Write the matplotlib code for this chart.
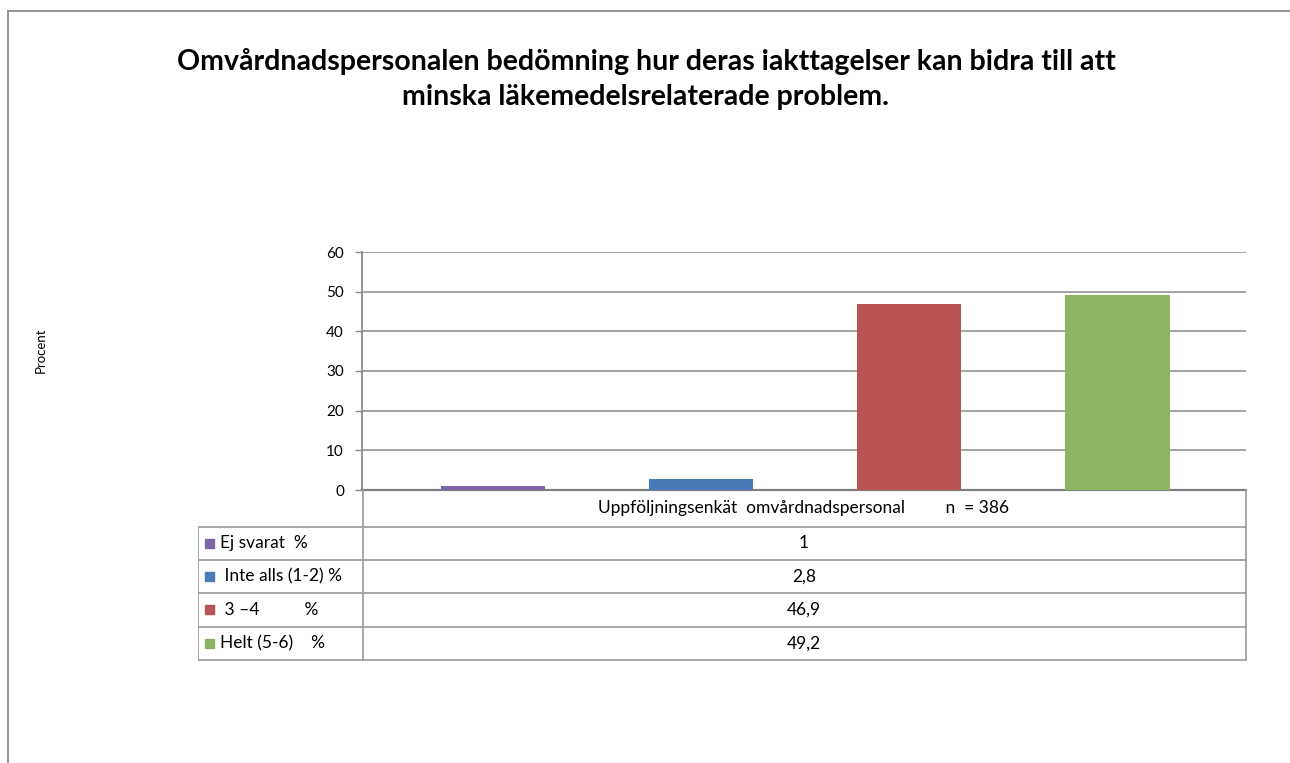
import matplotlib.pyplot as plt
from matplotlib.patches import Rectangle
from matplotlib.lines import Line2D

plt.rcParams['font.family'] = ['Lato', 'DejaVu Sans']

# data
series = ["Ej svarat  %", " Inte alls (1-2) %", " 3 \u20134          %", "Helt (5-6)    %"]
values = [1, 2.8, 46.9, 49.2]
value_labels = ["1", "2,8", "46,9", "49,2"]
colors = ["#7D63A8", "#4A7BB8", "#B85452", "#8DB465"]
category = "Uppf\u00f6ljningsenk\u00e4t  omv\u00e5rdnadspersonal         n  = 386"
title = ("Omv\u00e5rdnadspersonalen bed\u00f6mning hur deras iakttagelser kan bidra till att\n"
         "minska l\u00e4kemedelsrelaterade problem.")

W, H = 1290, 763
fig = plt.figure(figsize=(W / 100, H / 100), dpi=100)
grid_col = "#8a8a8a"

# outer chart border (runs off the right and bottom of the picture)
fig.add_artist(Line2D([8 / W, 8 / W], [1 - 11 / H, 0], color=grid_col, lw=1.3))
fig.add_artist(Line2D([8 / W, 1], [1 - 11 / H, 1 - 11 / H], color=grid_col, lw=1.3))

fig.text(646 / W, 1 - 79 / H, title, ha="center", va="center", fontsize=20.5,
         fontweight="bold", linespacing=1.42)

# main bar axes
ax = fig.add_axes([362 / W, 1 - 490 / H, (1245.5 - 362) / W, (490 - 252) / H])
x = list(range(len(values)))
ax.bar(x, values, width=0.5, color=colors, zorder=3)
ax.set_xlim(-0.63, 3.615)
ax.set_ylim(0, 60)
ax.set_yticks(range(0, 61, 10))
ax.set_xticks([])
ax.yaxis.grid(True, color=grid_col, lw=1.1)
ax.set_axisbelow(True)
for s in ["top", "right"]:
    ax.spines[s].set_visible(False)
ax.spines["left"].set_color(grid_col)
ax.spines["left"].set_linewidth(1.3)
ax.spines["bottom"].set_color("#7f7f7f")
ax.spines["bottom"].set_linewidth(1.6)
ax.tick_params(axis="y", length=5, width=1, color=grid_col, labelsize=11, pad=8)
fig.text(41 / W, 1 - 350 / H, "Procent", rotation=90, ha="center", va="center", fontsize=9.5)

# data table below the axes
tax = fig.add_axes([198 / W, 1 - 661 / H, (1247 - 198) / W, (661 - 490) / H])
tax.set_xlim(198, 1247)
tax.set_ylim(661, 490)
tax.axis("off")
rows = [490, 526.5, 559.5, 593, 626.5, 660]
line_kw = dict(color="#a0a0a0", lw=1.3)
for r in rows[1:]:
    tax.plot([198, 1245.5], [r, r], **line_kw)
tax.plot([198, 198], [rows[1], rows[-1]], **line_kw)
tax.plot([362.5, 362.5], [rows[0], rows[-1]], **line_kw)
tax.plot([1245.5, 1245.5], [rows[0], rows[-1]], **line_kw)
tax.text(804, (rows[0] + rows[1]) / 2, category, ha="center", va="center", fontsize=12.5)
for i in range(len(series)):
    yc = (rows[i + 1] + rows[i + 2]) / 2
    tax.add_patch(Rectangle((205, yc - 4.5), 9, 9, color=colors[i]))
    tax.text(220, yc, series[i], ha="left", va="center", fontsize=12.5)
    tax.text(804, yc, value_labels[i], ha="center", va="center", fontsize=12.5)

fig.savefig("out.png", dpi=100)
